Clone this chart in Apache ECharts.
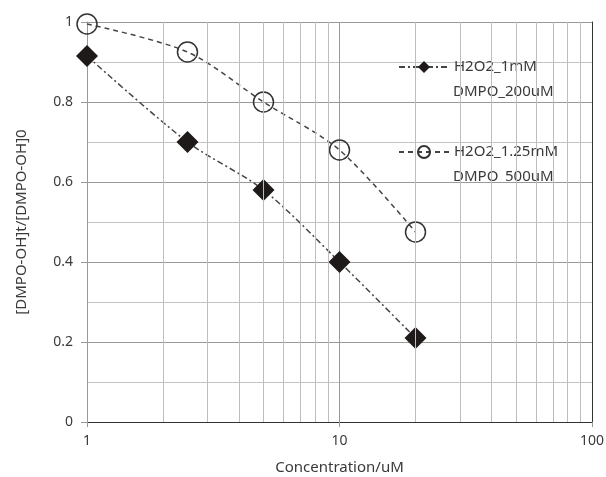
<!DOCTYPE html>
<html>
<head>
<meta charset="utf-8">
<script src="https://cdn.jsdelivr.net/npm/echarts@6/dist/echarts.min.js"></script>
<style>
  html, body { margin: 0; padding: 0; background: #fff; }
  #chart { width: 606px; height: 477px; }
</style>
</head>
<body>
<div id="chart"></div>
<script>
// concentrations (uM)
const concentration = [1, 2.5, 5, 10, 20];
// H2O2_1mM / DMPO_200uM
const series1Values = [0.915, 0.70, 0.58, 0.40, 0.21];
// H2O2_1.25mM / DMPO_500uM
const series2Values = [0.995, 0.925, 0.80, 0.68, 0.475];
const seriesNames = ['H2O2_1mM', 'H2O2_1.25mM'];
const seriesSubNames = ['DMPO_200uM', 'DMPO_500uM'];
// log-axis minor grid positions
const minorGridX = [2, 3, 4, 5, 6, 7, 8, 9, 20, 30, 40, 50, 60, 70, 80, 90];

const font = '"Noto Sans", sans-serif';
const textColor = '#3a3a3a';
const myChart = echarts.init(document.getElementById('chart'));

const toPairs = vals => concentration.map((c, i) => [c, vals[i]]);

// one legend per series so the second text line can sit under the first
const legendTops = [52, 137];
const legendCfg = (name, top) => ({
  orient: 'vertical',
  left: 393,
  top: top,
  itemWidth: 50,
  itemHeight: 15,
  data: [name],
  textStyle: { fontFamily: font, fontSize: 15, color: textColor, lineHeight: 20 }
});

const option = {
  animation: false,
  grid: { left: 87, right: 14, top: 22, bottom: 55, outerBoundsMode: 'none' },
  legend: seriesNames.map((n, i) => legendCfg(n, legendTops[i])),
  graphic: seriesSubNames.map((t, i) => ({
    type: 'text',
    left: 453,
    top: legendTops[i] + 32,
    silent: true,
    style: { text: t, font: '15px ' + font, fill: textColor }
  })),
  xAxis: [{
    type: 'log',
    logBase: 10,
    min: 1,
    max: 100,
    name: 'Concentration/uM',
    nameLocation: 'middle',
    nameGap: 38,
    nameTextStyle: { fontFamily: font, fontSize: 15, color: textColor },
    axisLine: { lineStyle: { color: '#999' } },
    axisTick: { show: true, length: 5, lineStyle: { color: '#999' } },
    axisLabel: { fontFamily: font, fontSize: 14, color: textColor, margin: 12 },
    splitLine: { show: true, lineStyle: { color: '#999' } }
  }, {
    type: 'log',
    logBase: 10,
    min: 1,
    max: 100,
    position: 'top',
    axisLine: { show: true, lineStyle: { color: '#333' } },
    axisTick: { show: false },
    axisLabel: { show: false },
    splitLine: { show: false }
  }],
  yAxis: [{
    type: 'value',
    min: 0,
    max: 1,
    interval: 0.2,
    name: '[DMPO-OH]t/[DMPO-OH]0',
    nameLocation: 'middle',
    nameGap: 58,
    nameTextStyle: { fontFamily: font, fontSize: 15, color: textColor },
    axisLine: { show: true, lineStyle: { color: '#999' } },
    axisTick: { show: true, length: 6, lineStyle: { color: '#999' } },
    axisLabel: { fontFamily: font, fontSize: 14, color: textColor, margin: 14 },
    splitLine: { show: true, lineStyle: { color: '#999' } },
    minorTick: { show: false, splitNumber: 2 },
    minorSplitLine: { show: true, lineStyle: { color: '#c4c4c4' } }
  }, {
    type: 'value',
    min: 0,
    max: 1,
    position: 'right',
    axisLine: { show: true, lineStyle: { color: '#333' } },
    axisTick: { show: false },
    axisLabel: { show: false },
    splitLine: { show: false }
  }],
  series: [
    {
      name: 'minorGrid',
      type: 'line',
      data: [],
      silent: true,
      z: 1,
      markLine: {
        silent: true,
        symbol: 'none',
        label: { show: false },
        lineStyle: { color: '#bdbdbd', type: 'solid', width: 1 },
        data: minorGridX.map(v => ({ xAxis: v }))
      }
    },
    {
      name: seriesNames[0],
      type: 'line',
      data: toPairs(series1Values),
      smooth: 0.3,
      symbol: 'diamond',
      symbolSize: 22,
      z: 3,
      itemStyle: { color: '#1e1a1a' },
      lineStyle: { color: '#444', width: 1.5, type: [6, 3, 2, 3] }
    },
    {
      name: seriesNames[1],
      type: 'line',
      data: toPairs(series2Values),
      smooth: 0.3,
      symbol: 'circle',
      symbolSize: 20,
      z: 3,
      itemStyle: { color: 'rgba(0,0,0,0)', borderColor: '#333', borderWidth: 1.5 },
      lineStyle: { color: '#444', width: 1.5, type: [5, 4] }
    }
  ]
};

myChart.setOption(option);

window.addEventListener('resize', () => {
  myChart.resize();
});
</script>
</body>
</html>
